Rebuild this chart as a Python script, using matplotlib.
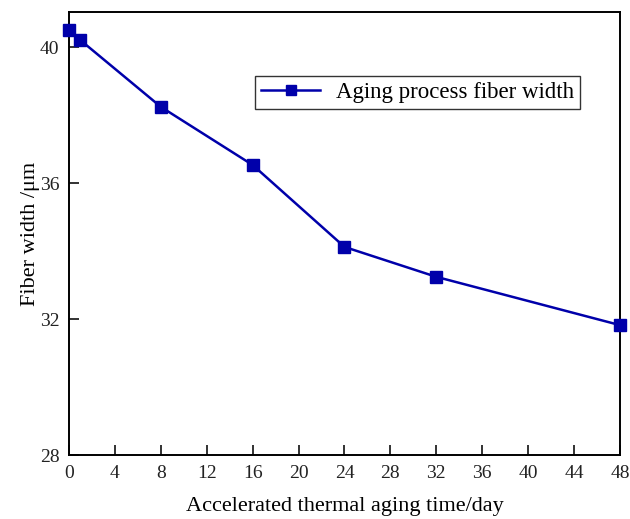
import matplotlib.pyplot as plt

plt.rcParams['font.family'] = ['Liberation Serif', 'DejaVu Serif']

days = [0, 1, 8, 16, 24, 32, 48]
width = [40.5, 40.2, 38.24, 36.53, 34.12, 33.24, 31.82]
x_ticks = list(range(0, 49, 4))
y_ticks = [28, 32, 36, 40]

fig = plt.figure(figsize=(6.3, 5.19), dpi=100)
ax = fig.add_axes([0.1095, 0.1233, 0.8746, 0.8536])

ax.plot(days, width, color='#0000AA', marker='s', markersize=8, linewidth=1.8,
        label='Aging process fiber width', clip_on=False, zorder=3)

ax.set_xlim(0, 48)
ax.set_ylim(28, 41.03)
ax.set_xticks(x_ticks)
ax.set_yticks(y_ticks)
ax.tick_params(direction='in', length=7, width=1.3, labelsize=14, pad=7,
               colors='#222222')
for s in ax.spines.values():
    s.set_linewidth(1.4)

ax.set_xlabel('Accelerated thermal aging time/day', fontsize=16, labelpad=11)
ax.set_ylabel('Fiber width /μm', fontsize=16, labelpad=0)

leg = ax.legend(loc='upper right', bbox_to_anchor=(0.928, 0.855), fontsize=16.5,
                frameon=True, fancybox=False, edgecolor='black', borderpad=0.25,
                handlelength=2.6, handletextpad=0.7, borderaxespad=0,
                markerscale=0.95)
leg.get_frame().set_linewidth(1.0)

fig.savefig('out.png', dpi=100)
